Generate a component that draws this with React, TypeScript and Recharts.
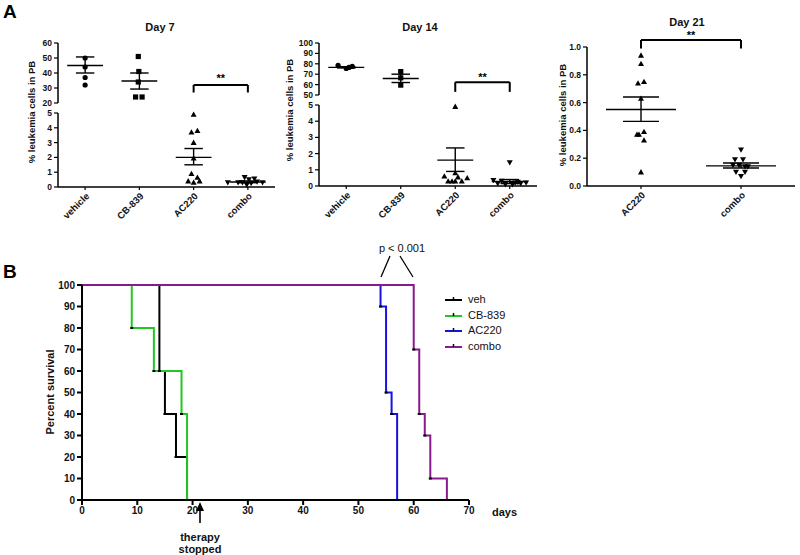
import React from "react";
import {
  ScatterChart,
  Scatter,
  LineChart,
  Line,
  XAxis,
  YAxis,
  ReferenceLine,
  ReferenceDot,
} from "recharts";

const FONT = '"Liberation Sans", Arial, Helvetica, sans-serif';

// ---- Panel A data ----
const groupsAll = ["vehicle", "CB-839", "AC220", "combo"];
const groupsDay21 = ["AC220", "combo"];

// Day 7
const day7Vehicle = [50, 44, 37, 32];
const day7VehicleJitter = [0, 0, 0, 0];
const day7Cb839 = [51, 41, 34, 24, 24];
const day7Cb839Jitter = [-0.02, -0.01, -0.02, -0.07, 0.05];
const day7Ac220 = [4.9, 3.7, 3.8, 3.0, 1.95, 0.9, 0.65, 0.4, 0.3, 0.4];
const day7Ac220Jitter = [0, -0.04, 0.07, 0, 0, -0.04, 0.07, -0.1, 0, 0.11];
const day7Combo = [0.3, 0.3, 0.65, 0.5, 0.25, 0.55, 0.35, 0.3, 0.15, 0.3];
const day7ComboJitter = [-0.37, -0.18, -0.06, 0.02, 0.06, 0.12, 0.17, 0.27, -0.02, -0.1];
const day7Mean = [45, 34.7, 2.0, 0.34];
const day7SemLow = [40, 29.3, 1.5, 0.29];
const day7SemHigh = [50.7, 40, 2.6, 0.41];
const day7Bracket = [2, 3, 32, 27, 37.5]; // from, to, top, foot, star

// Day 14
const day14Vehicle = [78.5, 75.5, 77.5, 76.5];
const day14VehicleJitter = [-0.15, 0, 0.11, 0.05];
const day14Cb839 = [72.5, 66.5, 59.5];
const day14Cb839Jitter = [0, 0, 0];
const day14Ac220 = [4.9, 0.8, 0.6, 0.55, 0.5, 0.3, 0.3, 0.3, 0.3];
const day14Ac220Jitter = [0, 0, -0.2, 0.05, 0.22, -0.13, 0, 0.12, -0.06];
const day14Combo = [1.45, 0.35, 0.3, 0.25, 0.2, 0.15, 0.1, 0.1, 0.15, 0.2];
const day14ComboJitter = [0, -0.3, -0.15, 0.15, 0.3, -0.22, -0.08, 0.05, 0.2, 0.1];
const day14Mean = [76.6, 65.8, 1.6, 0.28];
const day14SemLow = [76.0, 62, 0.9, 0.15];
const day14SemHigh = [77.2, 70, 2.35, 0.4];
const day14Bracket = [2, 3, 62.3, 53, 68.5];

// Day 21
const day21Ac220 = [0.94, 0.88, 0.74, 0.75, 0.63, 0.39, 0.37, 0.37, 0.33, 0.1];
const day21Ac220Jitter = [0, 0, -0.03, 0.03, 0, 0.03, -0.04, -0.02, 0.03, 0];
const day21Combo = [0.26, 0.19, 0.19, 0.15, 0.15, 0.14, 0.14, 0.1, 0.1, 0.07];
const day21ComboJitter = [0, -0.06, 0.02, -0.08, -0.02, 0.04, 0.07, -0.05, 0.04, 0];
const day21Mean = [0.55, 0.145];
const day21SemLow = [0.465, 0.13];
const day21SemHigh = [0.64, 0.165];
const day21Bracket = [0, 1, 1.05, 0.99, 1.1];

// ---- Panel B data: Kaplan-Meier steps (day, % survival) ----
const vehDays = [0, 14, 15, 17, 19];
const vehSurv = [100, 60, 40, 20, 0];
const cbDays = [0, 9, 13, 18, 19];
const cbSurv = [100, 80, 60, 40, 0];
const acDays = [0, 54, 55, 56, 57];
const acSurv = [100, 90, 50, 40, 0];
const comboDays = [0, 60, 61, 62, 63, 66];
const comboSurv = [100, 70, 40, 30, 10, 0];
const survivalTicksX = [0, 10, 20, 30, 40, 50, 60, 70];
const survivalTicksY = [0, 10, 20, 30, 40, 50, 60, 70, 80, 90, 100];

const toPts = (vals: number[], jit: number[], idx: number) =>
  vals.map((v, i) => ({ x: idx + jit[i], y: v }));
const toSteps = (days: number[], surv: number[]) =>
  days.map((d, i) => ({ t: d, s: surv[i] }));

const survivalSeries = [
  { name: "veh", color: "#000000", data: toSteps(vehDays, vehSurv) },
  { name: "CB-839", color: "#22c822", data: toSteps(cbDays, cbSurv) },
  { name: "AC220", color: "#1414e0", data: toSteps(acDays, acSurv) },
  { name: "combo", color: "#8a1a8a", data: toSteps(comboDays, comboSurv) },
];

const marker = (kind: string) => (props: any) => {
  const { cx, cy } = props;
  if (kind === "circle") return <circle cx={cx} cy={cy} r={2.6} fill="#000" />;
  if (kind === "square")
    return <rect x={cx - 2.6} y={cy - 2.6} width={5.2} height={5.2} fill="#000" />;
  if (kind === "up")
    return <polygon points={`${cx},${cy - 3} ${cx + 3},${cy + 2.3} ${cx - 3},${cy + 2.3}`} fill="#000" />;
  return <polygon points={`${cx},${cy + 3} ${cx + 3},${cy - 2.3} ${cx - 3},${cy - 2.3}`} fill="#000" />;
};

const seg = (key: string, a: any, b: any, w = 1.4, visible = false) => (
  <ReferenceLine
    key={key}
    segment={[a, b]}
    stroke="#000"
    strokeWidth={w}
    ifOverflow={visible ? "visible" : "discard"}
  />
);

// mean line plus SEM whiskers for one group
const meanSem = (idx: number, mean: number, lo: number, hi: number, half: number, cap: number) => [
  seg(`m${idx}`, { x: idx - half, y: mean }, { x: idx + half, y: mean }),
  seg(`v${idx}`, { x: idx, y: lo }, { x: idx, y: hi }),
  seg(`h${idx}`, { x: idx - cap, y: hi }, { x: idx + cap, y: hi }),
  seg(`l${idx}`, { x: idx - cap, y: lo }, { x: idx + cap, y: lo }),
];

const bracket = (b: number[]) => [
  seg("b1", { x: b[0], y: b[2] }, { x: b[1], y: b[2] }, 2, true),
  seg("b2", { x: b[0], y: b[2] }, { x: b[0], y: b[3] }, 2, true),
  seg("b3", { x: b[1], y: b[2] }, { x: b[1], y: b[3] }, 2, true),
  <ReferenceDot
    key="stars"
    x={(b[0] + b[1]) / 2}
    y={b[4]}
    ifOverflow="visible"
    shape={(p: any) => (
      <text x={p.cx} y={p.cy} textAnchor="middle" dy="0.5em" fontSize={11} fontWeight="bold" fontFamily={FONT}>
        **
      </text>
    )}
  />,
];

const yTick = { fontSize: 8.5, fontWeight: "bold", fill: "#111", fontFamily: FONT } as any;
const xTick = { fontSize: 9.5, fontWeight: "bold", fill: "#111", fontFamily: FONT } as any;
const axisLine = { stroke: "#000", strokeWidth: 1.5 };
const tickLine = { stroke: "#000", strokeWidth: 1.2 };

const abs = (left: number, top: number): React.CSSProperties => ({ position: "absolute", left, top });

const VLabel = ({ x, y, text, size = 10 }: { x: number; y: number; text: string; size?: number }) => (
  <div
    style={{
      position: "absolute",
      left: x,
      top: y,
      transform: "translate(-50%,-50%) rotate(-90deg)",
      whiteSpace: "nowrap",
      fontFamily: FONT,
      fontWeight: "bold",
      fontSize: size,
      lineHeight: 1,
      color: "#111",
    }}
  >
    {text}
  </div>
);

const Title = ({ x, y, text }: { x: number; y: number; text: string }) => (
  <div
    style={{
      position: "absolute",
      left: x,
      top: y,
      transform: "translate(-50%,-50%)",
      fontFamily: FONT,
      fontWeight: "bold",
      fontSize: 11,
      color: "#111",
      whiteSpace: "nowrap",
    }}
  >
    {text}
  </div>
);

export default function App() {
  const fourDomain: [number, number] = [-0.5, 3.5];
  const fmt4 = (v: number) => groupsAll[Math.round(v)] ?? "";
  const fmt2 = (v: number) => groupsDay21[Math.round(v)] ?? "";

  return (
    <div style={{ position: "absolute", left: 0, top: 0, width: 800, height: 555, background: "#fff", overflow: "hidden" }}>
      {/* Panel letters and titles */}
      <div style={{ ...abs(3, 2), fontFamily: FONT, fontWeight: "bold", fontSize: 19, lineHeight: 1 }}>A</div>
      <div style={{ ...abs(3, 262), fontFamily: FONT, fontWeight: "bold", fontSize: 19, lineHeight: 1 }}>B</div>
      <Title x={160} y={27} text="Day 7" />
      <Title x={420} y={27} text="Day 14" />
      <Title x={687} y={22} text="Day 21" />
      <VLabel x={32} y={112} text="% leukemia cells in PB" size={9.5} />
      <VLabel x={290} y={110} text="% leukemia cells in PB" size={9.5} />
      <VLabel x={563} y={115} text="% leukemia cells in PB" size={9.5} />

      {/* Day 7 upper segment */}
      <div style={abs(0, 0)}>
        <ScatterChart width={285} height={110} margin={{ top: 43, right: 10, bottom: 7, left: 0 }}>
          <XAxis type="number" dataKey="x" domain={fourDomain} hide />
          <YAxis type="number" dataKey="y" domain={[20, 60]} ticks={[20, 30, 40, 50, 60]} interval={0} width={58} tick={yTick} tickSize={4} axisLine={axisLine} tickLine={tickLine} />
          <Scatter data={toPts(day7Vehicle, day7VehicleJitter, 0)} shape={marker("circle")} isAnimationActive={false} />
          <Scatter data={toPts(day7Cb839, day7Cb839Jitter, 1)} shape={marker("square")} isAnimationActive={false} />
          {meanSem(0, day7Mean[0], day7SemLow[0], day7SemHigh[0], 0.33, 0.17)}
          {meanSem(1, day7Mean[1], day7SemLow[1], day7SemHigh[1], 0.33, 0.17)}
          {bracket(day7Bracket)}
        </ScatterChart>
      </div>
      {/* Day 7 lower segment */}
      <div style={abs(0, 104)}>
        <ScatterChart width={285} height={131} margin={{ top: 9, right: 10, bottom: 0, left: 0 }}>
          <XAxis type="number" dataKey="x" domain={fourDomain} ticks={[0, 1, 2, 3]} interval={0} height={48} tickFormatter={fmt4} angle={-45} textAnchor="end" tick={xTick} tickSize={3} axisLine={axisLine} tickLine={tickLine} />
          <YAxis type="number" dataKey="y" domain={[0, 5]} ticks={[0, 1, 2, 3, 4, 5]} interval={0} width={58} tick={yTick} tickSize={4} axisLine={axisLine} tickLine={tickLine} />
          <Scatter data={toPts(day7Ac220, day7Ac220Jitter, 2)} shape={marker("up")} isAnimationActive={false} />
          <Scatter data={toPts(day7Combo, day7ComboJitter, 3)} shape={marker("down")} isAnimationActive={false} />
          {meanSem(2, day7Mean[2], day7SemLow[2], day7SemHigh[2], 0.33, 0.17)}
          {meanSem(3, day7Mean[3], day7SemLow[3], day7SemHigh[3], 0.33, 0.17)}
        </ScatterChart>
      </div>

      {/* Day 14 upper segment */}
      <div style={abs(260, 0)}>
        <ScatterChart width={287} height={100} margin={{ top: 43, right: 10, bottom: 5, left: 0 }}>
          <XAxis type="number" dataKey="x" domain={fourDomain} hide />
          <YAxis type="number" dataKey="y" domain={[50, 100]} ticks={[50, 60, 70, 80, 90, 100]} interval={0} width={59} tick={yTick} tickSize={4} axisLine={axisLine} tickLine={tickLine} />
          <Scatter data={toPts(day14Vehicle, day14VehicleJitter, 0)} shape={marker("circle")} isAnimationActive={false} />
          <Scatter data={toPts(day14Cb839, day14Cb839Jitter, 1)} shape={marker("square")} isAnimationActive={false} />
          {meanSem(0, day14Mean[0], day14SemLow[0], day14SemHigh[0], 0.33, 0.17)}
          {meanSem(1, day14Mean[1], day14SemLow[1], day14SemHigh[1], 0.33, 0.17)}
          {bracket(day14Bracket)}
        </ScatterChart>
      </div>
      {/* Day 14 lower segment */}
      <div style={abs(260, 96)}>
        <ScatterChart width={287} height={138} margin={{ top: 9, right: 10, bottom: 0, left: 0 }}>
          <XAxis type="number" dataKey="x" domain={fourDomain} ticks={[0, 1, 2, 3]} interval={0} height={48} tickFormatter={fmt4} angle={-45} textAnchor="end" tick={xTick} tickSize={3} axisLine={axisLine} tickLine={tickLine} />
          <YAxis type="number" dataKey="y" domain={[0, 5]} ticks={[0, 1, 2, 3, 4, 5]} interval={0} width={59} tick={yTick} tickSize={4} axisLine={axisLine} tickLine={tickLine} />
          <Scatter data={toPts(day14Ac220, day14Ac220Jitter, 2)} shape={marker("up")} isAnimationActive={false} />
          <Scatter data={toPts(day14Combo, day14ComboJitter, 3)} shape={marker("down")} isAnimationActive={false} />
          {meanSem(2, day14Mean[2], day14SemLow[2], day14SemHigh[2], 0.33, 0.17)}
          {meanSem(3, day14Mean[3], day14SemLow[3], day14SemHigh[3], 0.33, 0.17)}
        </ScatterChart>
      </div>

      {/* Day 21 */}
      <div style={abs(540, 0)}>
        <ScatterChart width={260} height={234} margin={{ top: 47, right: 5, bottom: 0, left: 0 }}>
          <XAxis type="number" dataKey="x" domain={[-0.54, 1.54]} ticks={[0, 1]} interval={0} height={48} tickFormatter={fmt2} angle={-45} textAnchor="end" tick={xTick} tickSize={3} axisLine={axisLine} tickLine={tickLine} />
          <YAxis type="number" dataKey="y" domain={[0, 1]} ticks={[0, 0.2, 0.4, 0.6, 0.8, 1.0]} interval={0} tickFormatter={(v: number) => v.toFixed(1)} width={47} tick={yTick} tickSize={4} axisLine={axisLine} tickLine={tickLine} />
          <Scatter data={toPts(day21Ac220, day21Ac220Jitter, 0)} shape={marker("up")} isAnimationActive={false} />
          <Scatter data={toPts(day21Combo, day21ComboJitter, 1)} shape={marker("down")} isAnimationActive={false} />
          {meanSem(0, day21Mean[0], day21SemLow[0], day21SemHigh[0], 0.35, 0.18)}
          {meanSem(1, day21Mean[1], day21SemLow[1], day21SemHigh[1], 0.35, 0.18)}
          {bracket(day21Bracket)}
        </ScatterChart>
      </div>

      {/* Panel B survival */}
      <div style={abs(0, 250)}>
        <LineChart width={500} height={290} margin={{ top: 35, right: 31, bottom: 0, left: 0 }}>
          <XAxis
            type="number"
            dataKey="t"
            domain={[0, 70]}
            ticks={survivalTicksX}
            interval={0}
            height={40}
            tick={{ fontSize: 10, fontWeight: "bold", fill: "#111", fontFamily: FONT } as any}
            tickSize={5}
            axisLine={{ stroke: "#000", strokeWidth: 2 }}
            tickLine={{ stroke: "#000", strokeWidth: 2 }}
          />
          <YAxis
            type="number"
            domain={[0, 100]}
            ticks={survivalTicksY}
            interval={0}
            width={82}
            tick={{ fontSize: 10, fontWeight: "bold", fill: "#111", fontFamily: FONT } as any}
            tickSize={5}
            axisLine={{ stroke: "#000", strokeWidth: 2 }}
            tickLine={{ stroke: "#000", strokeWidth: 2 }}
          />
          {survivalSeries.map((s) => (
            <Line
              key={s.name}
              data={s.data}
              dataKey="s"
              type="stepAfter"
              stroke={s.color}
              strokeWidth={2}
              isAnimationActive={false}
              dot={(p: any) =>
                p.index === 0 ? (
                  <g key={`d${p.index}`} />
                ) : (
                  <rect key={`d${p.index}`} x={p.cx - 1.5} y={p.cy - 1} width={3} height={2} fill="#000" />
                )
              }
              activeDot={false}
            />
          ))}
        </LineChart>
      </div>
      <VLabel x={50} y={392} text="Percent survival" size={11} />

      {/* Legend */}
      <div style={{ ...abs(445, 291), fontFamily: FONT, fontSize: 11, color: "#111" }}>
        {survivalSeries.map((s) => (
          <div key={s.name} style={{ display: "flex", alignItems: "center", height: 15.7 }}>
            <svg width={18} height={8} style={{ marginRight: 5 }}>
              <line x1={0} y1={5} x2={17} y2={5} stroke={s.color} strokeWidth={2} />
              <line x1={8.5} y1={2} x2={8.5} y2={5} stroke="#000" strokeWidth={1.5} />
            </svg>
            <span>{s.name}</span>
          </div>
        ))}
      </div>

      {/* Annotations */}
      <svg width={800} height={555} style={{ position: "absolute", left: 0, top: 0, pointerEvents: "none" }}>
        <text x={402} y={252} textAnchor="middle" fontSize={11} fontFamily={FONT} fill="#111">
          p &lt; 0.001
        </text>
        <line x1={390} y1={256} x2={381} y2={277} stroke="#000" strokeWidth={1.3} />
        <line x1={400} y1={256} x2={413} y2={277} stroke="#000" strokeWidth={1.3} />
        <text x={492} y={516} fontSize={11} fontWeight="bold" fontFamily={FONT} fill="#111">
          days
        </text>
        <line x1={200} y1={523} x2={200} y2={509} stroke="#000" strokeWidth={1.6} />
        <polygon points="200,502 196,511 204,511" fill="#000" />
        <text x={200} y={541} textAnchor="middle" fontSize={11} fontWeight="bold" fontFamily={FONT} fill="#111">
          therapy
        </text>
        <text x={200} y={553} textAnchor="middle" fontSize={11} fontWeight="bold" fontFamily={FONT} fill="#111">
          stopped
        </text>
      </svg>
    </div>
  );
}
